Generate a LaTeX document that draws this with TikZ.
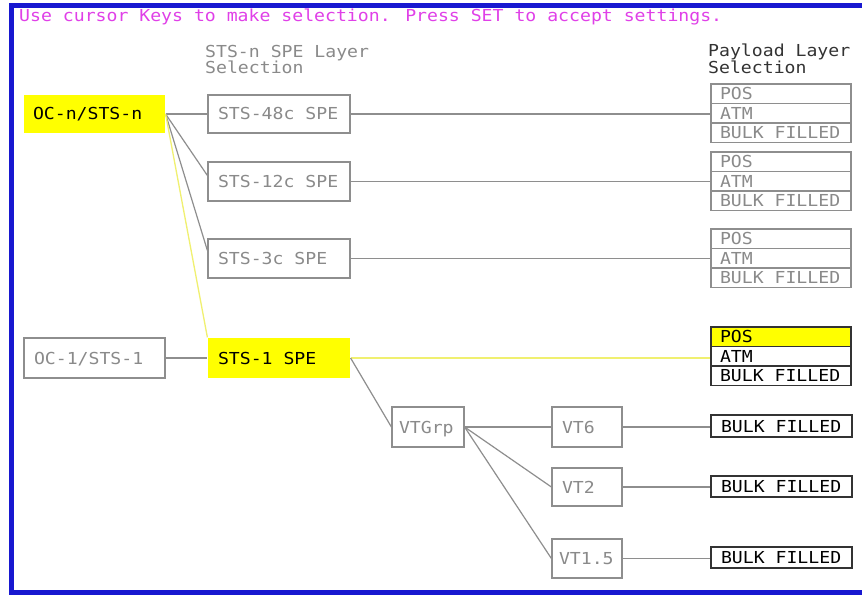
\documentclass[tikz,border=0pt]{standalone}
\usepackage{fontspec}
\newfontfamily\scr[FakeStretch=1.1]{DejaVu Sans Mono}
\newcommand\lft[2]{\makebox[#1pt][l]{#2}}
\definecolor{bordblue}{HTML}{1818D0}
\definecolor{boxgray}{HTML}{8E8E8E}
\definecolor{txtgray}{HTML}{8A8A8A}
\definecolor{dark}{HTML}{333333}
\definecolor{hlyellow}{HTML}{FFFF00}
\definecolor{lnyellow}{HTML}{F0F070}
\definecolor{msgmag}{HTML}{E040E8}
\begin{document}
\begin{tikzpicture}[x=1pt,y=-1pt,
  txt/.style={font=\scr\fontsize{16.5}{17}\selectfont, inner sep=0pt},
  box/.style n args={2}{txt, draw=boxgray, line width=1.2pt, text=txtgray,
     minimum height=#1, inner xsep=#2, inner ysep=0pt,
     text height=12pt, text depth=0pt},
  sel/.style={fill=hlyellow, draw=none, text=black},
  row/.style={box={19.5pt}{9pt}},
  rowdark/.style={row, draw=dark, text=black, line width=1.3pt},
  bulk/.style={box={#1}{10pt}, draw=dark, text=black, line width=1.8pt},
  ln/.style={draw=boxgray, line width=1.2pt},
  yl/.style={draw=lnyellow, line width=1.3pt},
  head/.style={txt, anchor=base west}]
\useasboundingbox (0,0) rectangle (862,596);
\fill[white] (0,0) rectangle (862,596);
\draw[bordblue, line width=4.5pt] (862,5.5) -- (11.5,5.5) -- (11.5,592.5) -- (862,592.5);

\node[head, text=msgmag] (title) at (19,22) {Use cursor Keys to make selection. Press SET to accept settings.};
\node[head, text=txtgray] (h1a) at (205,58) {STS-n SPE Layer};
\node[head, text=txtgray] (h1b) at (205,74) {Selection};
\node[head, text=dark] (h2a) at (708,57) {Payload Layer};
\node[head, text=dark] (h2b) at (708,74) {Selection};

\node[box={38pt}{9pt}, sel] (ocn) at (94.5,114) {\lft{123}{OC-n/STS-n}};
\node[box={38pt}{10pt}] (s48) at (279,114) {\lft{122}{STS-48c SPE}};
\node[box={39pt}{10pt}] (s12) at (279,181.5) {\lft{122}{STS-12c SPE}};
\node[box={39pt}{10pt}] (s3) at (279,258.5) {\lft{122}{STS-3c SPE}};
\node[box={40pt}{10pt}] (oc1) at (94.5,358) {\lft{121}{OC-1/STS-1}};
\node[box={40pt}{10pt}, sel] (sts1) at (279,358) {\lft{122}{STS-1 SPE}};
\node[box={40pt}{7pt}] (vtg) at (428,427) {\lft{58}{VTGrp}};
\node[box={40pt}{10pt}] (vt6) at (587,427) {\lft{50}{VT6}};
\node[box={38pt}{10pt}] (vt2) at (587,487) {\lft{50}{VT2}};
\node[box={39pt}{7pt}] (vt15) at (587,558.5) {\lft{56}{VT1.5}};

\node[row] (p1a) at (781,93.75) {\lft{122}{POS}};
\node[row] (p1b) at (781,113.25) {\lft{122}{ATM}};
\node[row] (p1c) at (781,132.75) {\lft{122}{BULK FILLED}};
\node[row] (p2a) at (781,161.75) {\lft{122}{POS}};
\node[row] (p2b) at (781,181.25) {\lft{122}{ATM}};
\node[row] (p2c) at (781,200.75) {\lft{122}{BULK FILLED}};
\node[row] (p3a) at (781,238.75) {\lft{122}{POS}};
\node[row] (p3b) at (781,258.25) {\lft{122}{ATM}};
\node[row] (p3c) at (781,277.75) {\lft{122}{BULK FILLED}};
\node[rowdark, fill=hlyellow] (p4a) at (781,336.75) {\lft{122}{POS}};
\node[rowdark] (p4b) at (781,356.25) {\lft{122}{ATM}};
\node[rowdark] (p4c) at (781,375.75) {\lft{122}{BULK FILLED}};

\node[bulk=22pt] (b1) at (781.5,426) {\lft{121}{BULK FILLED}};
\node[bulk=21pt] (b2) at (781.5,486.5) {\lft{121}{BULK FILLED}};
\node[bulk=21pt] (b3) at (781.5,557.5) {\lft{121}{BULK FILLED}};

\draw[ln] (ocn.east) -- (s48.west);
\draw[ln] (ocn.east) -- ([yshift=6pt]s12.west);
\draw[ln] (ocn.east) -- ([yshift=8pt]s3.west);
\draw[yl] (ocn.east) -- (sts1.north west);
\draw[ln] (s48.east) -- (s48.east -| p1b.west);
\draw[ln] (s12.east) -- (s12.east -| p2b.west);
\draw[ln] (s3.east) -- (s3.east -| p3b.west);
\draw[ln] (oc1.east) -- (sts1.west);
\draw[yl] (sts1.east) -- (sts1.east -| p4b.west);
\draw[ln] (sts1.east) -- (vtg.west);
\draw[ln] (vtg.east) -- (vt6.west);
\draw[ln] (vtg.east) -- (vt2.west);
\draw[ln] (vtg.east) -- (vt15.west);
\draw[ln] (vt6.east) -- (vt6.east -| b1.west);
\draw[ln] (vt2.east) -- (vt2.east -| b2.west);
\draw[ln] (vt15.east) -- (vt15.east -| b3.west);
\end{tikzpicture}
\end{document}
